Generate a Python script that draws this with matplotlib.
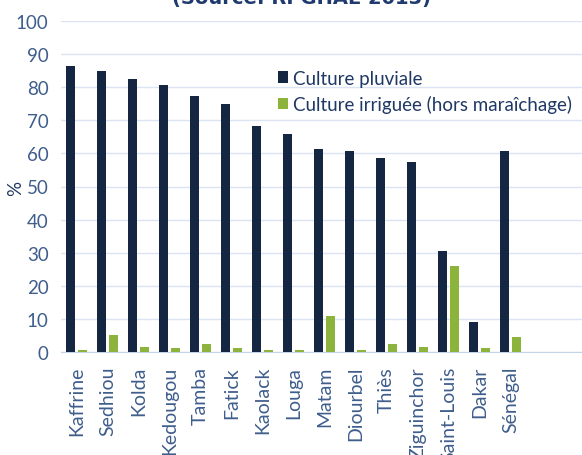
import matplotlib.pyplot as plt
import numpy as np

regions = ['Kaffrine', 'Sedhiou', 'Kolda', 'Kedougou', 'Tamba', 'Fatick', 'Kaolack', 'Louga',
           'Matam', 'Diourbel', 'Thiès', 'Ziguinchor', 'Saint-Louis', 'Dakar', 'Sénégal']
pluviale = [86.5, 85.0, 82.5, 80.7, 77.3, 75.0, 68.3, 66.0, 61.3, 60.7, 58.5, 57.5, 30.5, 9.0, 60.7]
irriguee = [0.5, 5.2, 1.5, 1.3, 2.3, 1.2, 0.5, 0.7, 11.0, 0.5, 2.3, 1.6, 26.0, 1.3, 4.4]

navy = '#142641'
green = '#8CB43C'
txt = '#3F5E8C'

plt.rcParams['font.family'] = ['Lato', 'DejaVu Sans']

fig = plt.figure(figsize=(5.82, 4.56), dpi=100)
W, H = 582, 456
ax = fig.add_axes([61 / W, 103 / H, 1 - 61 / W, (353 - 22) / H])

x = np.arange(len(regions))
bw = 0.29
ax.bar(x - 0.19, pluviale, bw, color=navy, label='Culture pluviale', zorder=3)
ax.bar(x + 0.19, irriguee, bw, color=green, label='Culture irriguée (hors maraîchage)', zorder=3)

ax.set_xlim(-0.5, (W - 61) / 31 - 0.5)
ax.set_ylim(0, 100)
ax.set_yticks(range(0, 101, 10))
ax.grid(axis='y', color='#DAE4F2', lw=1, zorder=0)
for s in ['top', 'right', 'left']:
    ax.spines[s].set_visible(False)
ax.spines['bottom'].set_color('#C5D3E8')
ax.tick_params(axis='both', length=0, labelcolor=txt)
ax.tick_params(axis='y', pad=9, labelsize=13.5)
ax.tick_params(axis='x', pad=10, labelsize=14)
ax.set_xticks(x)
ax.set_xticklabels(regions, rotation=90)

fig.text(16 / W, 1 - 188 / H, '%', rotation=90, fontsize=13.5, color='#1F3864',
         ha='center', va='center')
# title is cropped at the top in the reference
fig.text(302 / W, 1 + 2 / H, '(Source: RPGHAE 2013)', fontsize=14, fontweight='bold',
         color='#1F3A6E', ha='center', va='center', family=['DejaVu Sans'])

leg = ax.legend(loc='upper left', bbox_to_anchor=(270 / W, 1 - 63 / H), bbox_transform=fig.transFigure,
                frameon=False, fontsize=13.5, handlelength=0.55, handleheight=0.55, handletextpad=0.3,
                labelspacing=0.45, borderaxespad=0)
for t in leg.get_texts():
    t.set_color('#1F3864')

fig.savefig('out.png', dpi=100)
